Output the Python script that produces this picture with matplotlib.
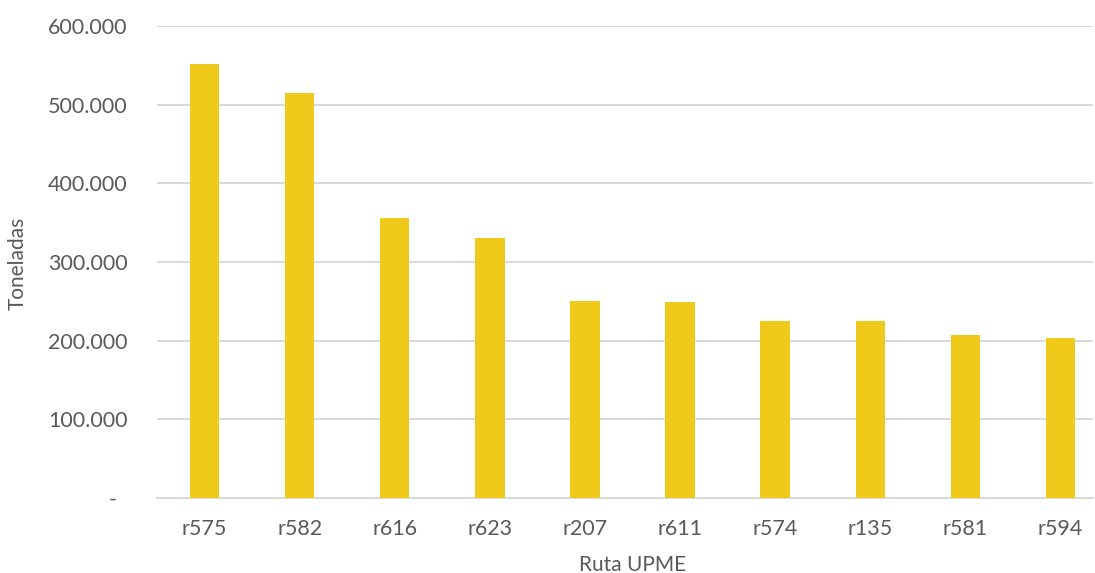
import matplotlib
matplotlib.use("Agg")
import matplotlib.pyplot as plt
from matplotlib.ticker import FuncFormatter

rutas = ["r575", "r582", "r616", "r623", "r207", "r611", "r574", "r135", "r581", "r594"]
toneladas = [552000, 515000, 356000, 331000, 250000, 249000, 225000, 225000, 207000, 204000]
y_ticks = [0, 100000, 200000, 300000, 400000, 500000, 600000]

plt.rcParams["font.family"] = ["Lato", "DejaVu Sans"]
text_color = "#595959"

W, H = 1095, 573
fig = plt.figure(figsize=(W / 100, H / 100), dpi=100)
ax = fig.add_axes([157 / W, 75 / H, (1093 - 157) / W, (498 - 26) / H])

x = range(len(rutas))
ax.bar(x, toneladas, width=0.31, color="#EFCA1A", zorder=3)

ax.set_xlim(-0.5, len(rutas) - 0.5 - 15 / 95.1)
ax.set_ylim(0, 600000)
ax.set_yticks(y_ticks)


def miles(v, pos):
    # zero is shown as a dash, accounting-style, set in from the right edge
    if v == 0:
        return "-  "
    return f"{int(v):,}".replace(",", ".")


ax.yaxis.set_major_formatter(FuncFormatter(miles))
ax.set_xticks(list(x))
ax.set_xticklabels(rutas)

ax.grid(axis="y", color="#d9d9d9", linewidth=1.4, zorder=0)
for side in ["top", "right", "left"]:
    ax.spines[side].set_visible(False)
ax.spines["bottom"].set_color("#d9d9d9")
ax.spines["bottom"].set_linewidth(1.4)
ax.tick_params(axis="both", length=0, labelsize=15.5, colors=text_color)
ax.tick_params(axis="y", pad=21)
ax.tick_params(axis="x", pad=15)

ax.set_xlabel("Ruta UPME", fontsize=15, color=text_color, va="center")
ax.set_ylabel("Toneladas", fontsize=15, color=text_color, va="center")
ax.xaxis.set_label_coords(633 / W, 1 - 565 / H, transform=fig.transFigure)
ax.yaxis.set_label_coords(18 / W, 1 - 263 / H, transform=fig.transFigure)

fig.savefig("out.png", dpi=100)
